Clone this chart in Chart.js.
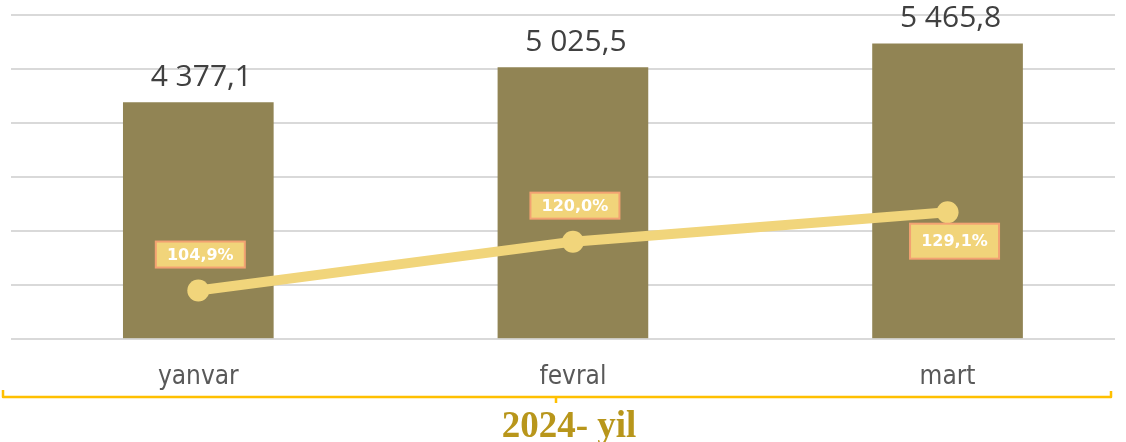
<!DOCTYPE html>
<html>
<head>
<meta charset="utf-8">
<script src="https://cdn.jsdelivr.net/npm/chart.js@4.4.1/dist/chart.umd.min.js"></script>
<style>
  html, body { margin: 0; padding: 0; background: #fff; overflow: hidden; }
  canvas { display: block; }
</style>
</head>
<body>
<canvas id="chart" width="1126" height="442"></canvas>
<script>
const months = ["yanvar", "fevral", "mart"];
const volume = [4377.1, 5025.5, 5465.8];
const growth = [104.9, 120.0, 129.1];
const periodTitle = "2024- yil";

function fmtNum(v) {
  const parts = v.toFixed(1).split(".");
  return parts[0].replace(/\B(?=(\d{3})+(?!\d))/g, " ") + "," + parts[1];
}
function fmtPct(v) {
  return v.toFixed(1).replace(".", ",") + "%";
}

// подписи над столбцами и на линии
const labelsPlugin = {
  id: "labels",
  afterDatasetsDraw(chart) {
    const ctx = chart.ctx;
    ctx.save();
    ctx.font = '30px "Open Sans"';
    ctx.fillStyle = "#404040";
    ctx.textAlign = "center";
    ctx.textBaseline = "alphabetic";
    chart.getDatasetMeta(0).data.forEach((bar, i) => {
      ctx.fillText(fmtNum(volume[i]), bar.x + 3, bar.y - 17);
    });

    ctx.font = 'bold 16px "DejaVu Sans"';
    ctx.textBaseline = "middle";
    chart.getDatasetMeta(1).data.forEach((pt, i) => {
      const below = i === 2;
      const cx = pt.x + (below ? 7 : 2);
      const cy = pt.y + (below ? 29 : -36);
      const w = 89, h = below ? 35 : 26;
      ctx.fillStyle = "#F1D47A";
      ctx.fillRect(cx - w / 2, cy - h / 2, w, h);
      ctx.strokeStyle = "#F3A272";
      ctx.lineWidth = 2;
      ctx.strokeRect(cx - w / 2, cy - h / 2, w, h);
      ctx.fillStyle = "#ffffff";
      ctx.fillText(fmtPct(growth[i]), cx, cy + 1);
    });
    ctx.restore();
  }
};

// скобка и подпись периода внизу
const bracketPlugin = {
  id: "bracket",
  afterDraw(chart) {
    const ctx = chart.ctx;
    ctx.save();
    ctx.strokeStyle = "#FFC000";
    ctx.lineWidth = 2.5;
    ctx.lineJoin = "round";
    ctx.beginPath();
    ctx.moveTo(3, 390);
    ctx.lineTo(3, 397);
    ctx.lineTo(1111, 397);
    ctx.lineTo(1111, 391);
    ctx.moveTo(556, 397);
    ctx.lineTo(556, 403);
    ctx.stroke();

    ctx.font = 'bold 37px "Liberation Serif"';
    ctx.fillStyle = "#B8961B";
    ctx.textAlign = "center";
    ctx.textBaseline = "alphabetic";
    ctx.fillText(periodTitle, 569, 437);
    ctx.restore();
  }
};

// ось x линейная: категория i стоит в точке x = i
new Chart(document.getElementById("chart"), {
  data: {
    datasets: [
      {
        type: "bar",
        data: volume.map((v, i) => ({ x: i, y: v })),
        backgroundColor: "#918454",
        barThickness: 150,
        yAxisID: "y",
        order: 1
      },
      {
        type: "line",
        data: growth.map((v, i) => ({ x: i, y: v })),
        borderColor: "#F1D57B",
        borderWidth: 10,
        pointRadius: 11,
        pointBackgroundColor: "#F1D57B",
        pointBorderWidth: 0,
        tension: 0,
        yAxisID: "y2",
        order: 0
      }
    ]
  },
  options: {
    responsive: false,
    animation: false,
    layout: { padding: { left: 10.5, right: 0, top: 15, bottom: 26 } },
    plugins: {
      legend: { display: false },
      tooltip: { enabled: false }
    },
    scales: {
      x: {
        type: "linear",
        min: -0.5,
        max: 2.447,
        offset: false,
        grid: { display: false, drawTicks: false },
        border: { display: false },
        afterBuildTicks(scale) {
          scale.ticks = months.map((m, i) => ({ value: i }));
        },
        ticks: {
          color: "#595959",
          font: { family: "'DejaVu Sans Condensed', 'Noto Sans'", size: 26 },
          padding: 23,
          maxRotation: 0,
          callback: (v) => months[v]
        }
      },
      y: {
        min: 0,
        max: 6000,
        ticks: { display: false, stepSize: 1000 },
        grid: { color: "#D9D9D9", lineWidth: 2, drawTicks: false },
        border: { display: false }
      },
      y2: { min: 90, max: 190, display: false, position: "right" }
    }
  },
  plugins: [labelsPlugin, bracketPlugin]
});
</script>
</body>
</html>
